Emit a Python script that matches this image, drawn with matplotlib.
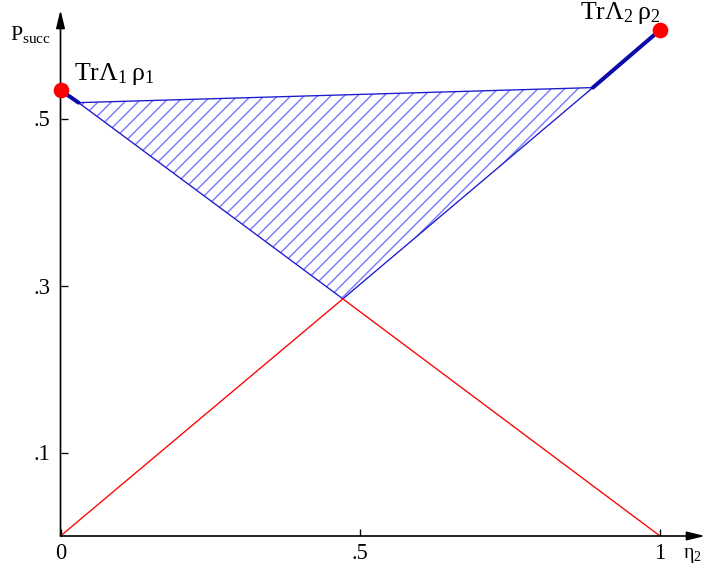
import matplotlib
matplotlib.use("Agg")
import matplotlib.pyplot as plt
from matplotlib.patches import Polygon

# --- data ---
red_x = [0.0, 0.471, 1.0]
red_y = [0.0, 0.284, 0.0]

region_x = [0.030, 0.888, 0.471]      # hatched region corners
region_y = [0.519, 0.537, 0.284]

seg1_x = [0.0, 0.030]                  # thick part from Tr L1 rho1
seg1_y = [0.534, 0.519]
seg2_x = [0.888, 1.0]                  # thick part to Tr L2 rho2
seg2_y = [0.537, 0.606]

pts_x = [0.0, 1.0]
pts_y = [0.534, 0.606]

xticks = [0, 0.5, 1]
xticklabels = ["0", ".5", "1"]
yticks = [0.1, 0.3, 0.5]
yticklabels = [".1", ".3", ".5"]

# ---
DPI = 120
W, H = 706, 564
plt.rcParams["font.family"] = "Liberation Serif"
plt.rcParams["hatch.linewidth"] = 0.9

fig = plt.figure(figsize=(W / DPI, H / DPI), dpi=DPI)
x0, y0 = 60.5, 536.0
sx, sy = 599.5, 835.0
xmax, ymax = (705 - x0) / sx, (y0 - 10) / sy
ax = fig.add_axes([x0 / W, (H - y0) / H, (705 - x0) / W, (y0 - 10) / H])
ax.set_xlim(0, xmax)
ax.set_ylim(0, ymax)
for s in ax.spines.values():
    s.set_visible(False)

# axes with arrows
ax.annotate("", xy=(0, 1), xytext=(0, 0), xycoords="axes fraction",
            arrowprops=dict(arrowstyle="-|>,head_length=0.9,head_width=0.22",
                            lw=1.0, color="black", shrinkA=0, shrinkB=0))
ax.annotate("", xy=(1, 0), xytext=(0, 0), xycoords="axes fraction",
            arrowprops=dict(arrowstyle="-|>,head_length=0.9,head_width=0.22",
                            lw=1.0, color="black", shrinkA=0, shrinkB=0))

# hatched region
poly = Polygon(list(zip(region_x, region_y)), closed=True, facecolor="none",
               edgecolor="#8080ff", hatch="///", lw=0)
ax.add_patch(poly)
ax.plot(region_x + region_x[:1], region_y + region_y[:1], color="#1a1acc", lw=0.8)

ax.plot(red_x, red_y, color="red", lw=0.8)
ax.plot(seg1_x, seg1_y, color="#0a0aaa", lw=2.4, solid_capstyle="round")
ax.plot(seg2_x, seg2_y, color="#0a0aaa", lw=2.4, solid_capstyle="round")
ax.plot(pts_x, pts_y, "o", color="red", ms=8.4, zorder=5, clip_on=False)

ax.text(0.023, 0.546, r"$\mathregular{Tr\Lambda_1\,\rho_1}$", fontsize=15.5)
ax.text(0.866, 0.619, r"$\mathregular{Tr\Lambda_2\,\rho_2}$", fontsize=15.5)

ax.set_xticks(xticks)
ax.set_xticklabels(xticklabels)
ax.set_yticks(yticks)
ax.set_yticklabels(yticklabels)
ax.tick_params(axis="both", direction="in", length=4, width=0.8, labelsize=13.5)
ax.tick_params(axis="y", pad=6)
ax.tick_params(axis="x", pad=4)

fig.text(10 / W, 1 - 40 / H, r"$\mathregular{P_{succ}}$", fontsize=13)
fig.text(683 / W, 1 - 558 / H, r"$\mathregular{\eta_2}$", fontsize=12)

fig.savefig("out.png", dpi=DPI)
